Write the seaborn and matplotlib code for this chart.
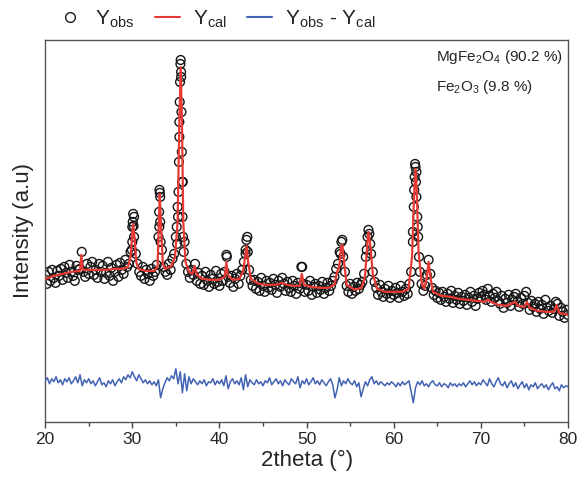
import numpy as np
import pandas as pd
import matplotlib
matplotlib.use("Agg")
from matplotlib import pyplot as plt
from matplotlib.lines import Line2D
import seaborn as sns

sns.set_style("ticks")
plt.rcParams["font.family"] = ["Liberation Sans", "DejaVu Sans"]
plt.rcParams["mathtext.fontset"] = "custom"
plt.rcParams["mathtext.rm"] = "Liberation Sans"
plt.rcParams["mathtext.it"] = "Liberation Sans:italic"

# observed pattern, 0.2 deg step from 20 to 80
obs_start, obs_step = 20.0, 0.2
y_obs = [
  147, 138, 150, 141, 152, 144, 139, 151, 146, 153,
  142, 155, 149, 144, 157, 150, 146, 141, 156, 152,
  153, 170, 150, 145, 158, 148, 155, 160, 147, 152,
  144, 158, 150, 156, 143, 149, 160, 146, 154, 141,
  150, 157, 145, 159, 152, 148, 162, 155, 158, 170,
  195, 205, 168, 158, 150, 146, 155, 143, 152, 148,
  141, 153, 146, 150, 157, 185, 225, 172, 155, 150,
  147, 158, 152, 163, 168, 185, 215, 300, 350, 240,
  180, 158, 150, 144, 152, 147, 158, 141, 149, 138,
  146, 137, 150, 141, 135, 147, 143, 138, 151, 140,
  136, 148, 141, 150, 167, 145, 139, 146, 135, 143,
  148, 138, 146, 152, 160, 172, 185, 152, 142, 136,
  142, 133, 140, 131, 144, 136, 130, 141, 134, 139,
  132, 143, 137, 129, 141, 135, 144, 138, 131, 140,
  134, 130, 141, 136, 128, 139, 133, 155, 138, 130,
  137, 131, 141, 127, 135, 138, 129, 136, 132, 140,
  128, 134, 139, 131, 136, 141, 145, 153, 158, 170,
  180, 165, 150, 136, 130, 138, 128, 135, 131, 139,
  133, 137, 140, 148, 165, 185, 188, 168, 150, 140,
  134, 127, 137, 130, 125, 133, 128, 136, 124, 131,
  127, 134, 129, 124, 136, 130, 126, 133, 128, 138,
  150, 190, 245, 250, 185, 150, 138, 131, 136, 147,
  162, 148, 134, 127, 131, 124, 129, 122, 130, 125,
  120, 128, 123, 131, 119, 126, 122, 129, 118, 125,
  121, 127, 117, 124, 130, 120, 126, 116, 123, 129,
  125, 131, 127, 122, 133, 126, 120, 128, 124, 130,
  121, 118, 126, 114, 123, 119, 127, 116, 122, 125,
  128, 120, 115, 124, 118, 126, 130, 119, 112, 121,
  115, 118, 110, 120, 113, 117, 108, 122, 114, 111,
  116, 109, 113, 120, 118, 106, 114, 110, 104, 112,
  107,
]
x_obs = obs_start + obs_step * np.arange(len(y_obs))

# extra observed points on the steep peak flanks
x_obs_peak = [29.95, 30.0, 30.05, 30.1, 30.15, 30.2,
              33.08, 33.1, 33.12, 33.16, 33.2, 33.25,
              35.1, 35.15, 35.25, 35.3, 35.35, 35.4, 35.44, 35.48, 35.52, 35.55,
              35.6, 35.64, 35.68, 35.72, 35.76, 35.82, 35.9,
              40.85, 43.0, 43.1, 43.25, 49.5, 53.9, 54.1, 56.9, 57.1, 57.3,
              62.2, 62.3, 62.35, 62.45, 62.5, 62.55, 62.6, 62.7, 62.75, 62.9]
y_obs_peak = [172, 180, 200, 208, 196, 185,
              210, 195, 232, 229, 200, 180,
              195, 178, 205, 230, 260, 285, 320, 340, 358, 362,
              345, 310, 270, 240, 205, 185, 170,
              165, 168, 182, 170, 155, 168, 182, 172, 192, 178,
              180, 215, 232, 258, 255, 240, 225, 205, 195, 165]

# calculated profile
x_cal = [20.0, 21.0, 22.0, 23.0, 24.0, 24.15, 24.3, 25.0, 26.0, 27.0, 28.0, 29.0,
         29.5, 29.8, 30.0, 30.1, 30.25, 30.45, 30.7, 31.5, 32.5, 32.9, 33.05, 33.15,
         33.3, 33.5, 33.8, 34.5, 34.9, 35.2, 35.4, 35.55, 35.7, 35.85, 36.1, 36.5,
         36.9, 37.15, 37.4, 38.0, 39.0, 40.0, 40.6, 40.8, 40.95, 41.5, 42.3, 42.7,
         42.95, 43.1, 43.3, 43.6, 44.5, 45.5, 46.5, 47.2, 47.8, 48.5, 49.2, 49.45,
         49.7, 50.5, 51.5, 52.5, 53.2, 53.5, 53.75, 53.95, 54.1, 54.3, 54.6, 55.5,
         56.3, 56.7, 56.95, 57.1, 57.3, 57.6, 58.1, 59.0, 60.0, 61.0, 61.7, 62.1,
         62.35, 62.5, 62.65, 62.85, 63.2, 63.5, 63.8, 64.0, 64.2, 64.5, 65.5, 66.5,
         67.5, 68.5, 69.5, 70.5, 70.8, 71.1, 72.0, 73.0, 73.9, 74.3, 75.0, 75.3,
         75.6, 76.5, 77.5, 78.4, 78.7, 79.0, 79.5, 80.0]
y_cal = [143, 146, 148, 150, 151, 167, 152, 152, 152, 152, 153, 153,
         155, 165, 188, 198, 185, 160, 153, 151, 151, 155, 200, 228,
         195, 158, 153, 156, 165, 200, 300, 355, 300, 200, 160, 150,
         148, 156, 147, 143, 142, 142, 145, 160, 147, 142, 143, 150,
         165, 176, 160, 143, 138, 137, 137, 139, 137, 136, 136, 148,
         137, 135, 134, 134, 137, 150, 155, 175, 177, 160, 137, 132,
         134, 145, 175, 190, 178, 148, 133, 130, 130, 130, 133, 165,
         230, 253, 230, 170, 140, 133, 145, 160, 145, 130, 126, 125,
         123, 122, 121, 120, 122.5, 120, 117, 116, 120, 116, 115, 120,
         114, 111, 110, 110, 117, 109, 108, 107]

# difference curve (offset), 0.25 deg step
diff_start, diff_step = 20.0, 0.25
y_diff = [
  41, 44, 38, 43, 40, 45, 39, 42, 37, 43,
  40, 44, 38, 41, 45, 39, 47, 36, 42, 39,
  43, 38, 41, 36, 40, 44, 37, 39, 35, 41,
  38, 42, 36, 40, 43, 39, 45, 42, 47, 44,
  50, 45, 41, 47, 43, 39, 42, 38, 41, 37,
  40, 36, 42, 24, 33, 39, 44, 41, 46, 43,
  53, 38, 50, 29, 48, 31, 45, 38, 43, 40,
  37, 41, 38, 42, 36, 40, 39, 43, 37, 41,
  38, 42, 36, 46, 33, 40, 43, 38, 41, 37,
  44, 32, 47, 35, 42, 39, 37, 42, 38, 40,
  36, 41, 39, 44, 37, 40, 43, 38, 41, 36,
  42, 39, 37, 43, 40, 38, 45, 34, 41, 38,
  43, 37, 40, 44, 38, 41, 37, 42, 39, 36,
  40, 43, 37, 24, 32, 44, 36, 41, 38, 43,
  39, 37, 41, 35, 39, 25, 33, 40, 36, 42,
  45, 38, 41, 37, 40, 38, 36, 39, 37, 40,
  38, 35, 39, 36, 40, 37, 39, 41, 30, 19,
  34, 40, 37, 41, 36, 38, 35, 39, 41, 37,
  36, 39, 35, 38, 37, 34, 39, 36, 38, 35,
  38, 36, 39, 35, 38, 41, 37, 40, 36, 39,
  37, 42, 39, 36, 43, 38, 35, 40, 44, 38,
  36, 40, 34, 38, 41, 35, 39, 33, 37, 40,
  34, 38, 32, 37, 35, 39, 33, 36, 38, 34,
  37, 32, 36, 39, 33, 35, 31, 37, 34, 36,
  35,
]
x_diff = diff_start + diff_step * np.arange(len(y_diff))

phases = [r"MgFe$_2$O$_4$ (90.2 %)", r"Fe$_2$O$_3$ (9.8 %)"]

red = "#e83a35"
blue = "#4262b3"

fig = plt.figure(figsize=(5.79, 4.82), dpi=100)
ax = fig.add_axes([0.078, 0.125, 0.903, 0.792])

obs_df = pd.DataFrame({"x": np.concatenate([x_obs, x_obs_peak]),
                       "y": np.concatenate([y_obs, y_obs_peak])})
sns.scatterplot(data=obs_df, x="x", y="y", ax=ax, marker="o", s=40,
                facecolors="none", edgecolor="#151515", linewidth=1.0, zorder=2)
sns.lineplot(x=x_cal, y=y_cal, ax=ax, color=red, linewidth=1.6,
             estimator=None, sort=False, zorder=3)
sns.lineplot(x=x_diff, y=y_diff, ax=ax, color=blue, linewidth=1.1,
             estimator=None, sort=False, zorder=3)

ax.set_xlim(20, 80)
ax.set_ylim(0, 382)
ax.set_xticks(range(20, 81, 10))
ax.set_xticks(range(25, 80, 10), minor=True)
ax.set_yticks([])
ax.tick_params(axis="x", which="both", direction="out", labelsize=12.5,
               color="#444444", width=1)
ax.tick_params(axis="x", which="major", length=4)
ax.tick_params(axis="x", which="minor", length=3)
for s in ax.spines.values():
  s.set_color("#555555")
  s.set_linewidth(1.0)
  s.set_visible(True)

ax.set_xlabel("2theta (°)", fontsize=16, labelpad=2)
ax.set_ylabel("Intensity (a.u)", fontsize=16, labelpad=8)

ax.text(0.748, 0.955, phases[0], transform=ax.transAxes, fontsize=11, va="center")
ax.text(0.748, 0.877, phases[1], transform=ax.transAxes, fontsize=11, va="center")

handles = [
  Line2D([], [], marker="o", linestyle="none", markerfacecolor="none",
         markeredgecolor="#1a1a1a", markersize=7, markeredgewidth=1),
  Line2D([], [], color=red, linewidth=1.5),
  Line2D([], [], color=blue, linewidth=1.5),
]
labels = [r"Y$_\mathrm{obs}$", r"Y$_\mathrm{cal}$", r"Y$_\mathrm{obs}$ - Y$_\mathrm{cal}$"]
fig.legend(handles, labels, loc="center left", bbox_to_anchor=(0.085, 0.96),
           ncol=3, frameon=False, fontsize=15, handlelength=1.2,
           handletextpad=0.6, columnspacing=1.0, borderaxespad=0)

fig.savefig("out.png", dpi=100)
